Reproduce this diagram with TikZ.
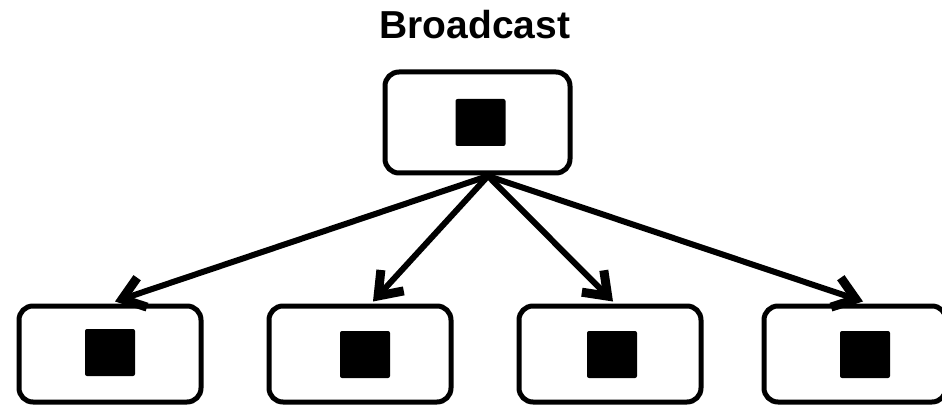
\documentclass[tikz,border=0pt]{standalone}
\usepackage{fontspec}
\setmainfont{Liberation Sans}
\usetikzlibrary{arrows.meta}
\tikzset{
  unitbox/.style={draw=black, line width=5pt, rounded corners=14pt, fill=white,
    minimum width=182pt, minimum height=96pt, inner sep=0pt},
  payload/.style={fill=black, rounded corners=2pt, minimum width=50pt,
    minimum height=47pt, inner sep=0pt},
  send/.style={line width=6pt, line cap=round,
    -{Straight Barb[length=21pt, width=31pt, line width=0pt 1.5]}},
}
\begin{document}
\begin{tikzpicture}[x=1pt, y=-1pt]
  \useasboundingbox (0,0) rectangle (942,406);
  % title
  \node[font=\bfseries\fontsize{39}{44}\selectfont, inner sep=0pt, anchor=base] (title) at (475,39) {Broadcast};
  % fan-out source point under the sender
  \coordinate (src) at (488,176);
  % receivers
  \node[unitbox] (r1) at (110,354) {};
  \node[unitbox] (r2) at (360,354) {};
  \node[unitbox] (r3) at (610,354) {};
  \node[unitbox] (r4) at (855,354) {};
  % arrows
  \draw[send] (src) -- ([xshift=5pt, yshift=2pt]r1.north);
  \draw[send] (src) -- ([xshift=13pt, yshift=2pt]r2.north);
  \draw[send] (src) -- ([xshift=3pt, yshift=2pt]r3.north);
  \draw[send] (src) -- ([xshift=8pt, yshift=2pt]r4.north);
  % sender
  \node[unitbox, minimum width=185pt, minimum height=101pt] (s) at (477.5,122.5) {};
  % payload squares
  \node[payload] (ps) at (480.5,122.5) {};
  \node[payload] (p1) at (110,352.5) {};
  \node[payload] (p2) at (365,354.5) {};
  \node[payload] (p3) at (612,354.5) {};
  \node[payload] (p4) at (865,354.5) {};
\end{tikzpicture}
\end{document}
